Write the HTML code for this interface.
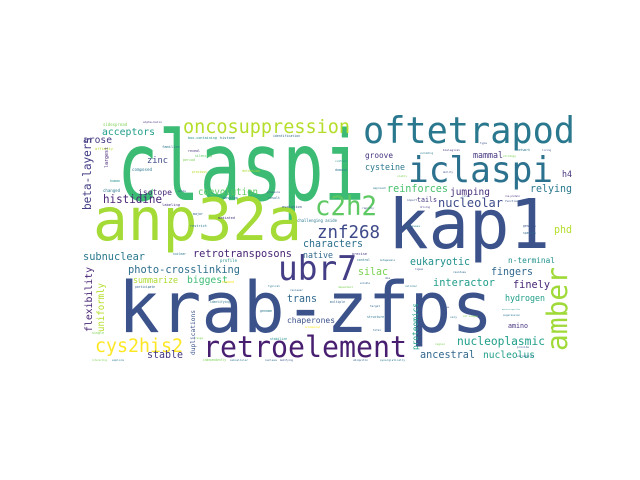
<!DOCTYPE html>
<html><head><meta charset="utf-8"><style>
html,body{margin:0;padding:0;background:#fff;}
svg{display:block;}
text{font-family:"DejaVu Sans Mono","Liberation Mono",monospace;}
</style></head><body>
<svg id="cloud" width="640" height="480" viewBox="0 0 640 480" xmlns="http://www.w3.org/2000/svg">
<rect width="640" height="480" fill="#fff"/>
<g id="words"></g>
</svg>
<script>
// [text, x, baselineY, length, color, vertical, optionalFontSize]
const words = [
["claspi",117,200,248,"#3cbb75",0,96],
["anp32a",93,240,209,"#a5db36",0],
["kap1",388,248,162,"#3b528b",0],
["krab-zfps",118,332,375,"#3b528b",0],
["oftetrapod",363,143,212,"#2a788e",0],
["iclaspi",408,182,145,"#2c728e",0],
["oncosuppression",183,133,167,"#b5de2b",0],
["ubr7",278,280,79,"#433e85",0],
["retroelement",203,357,204,"#481f70",0],
["cys2his2",95,352,88,"#fde725",0],
["c2h2",315,215,62,"#5ec962",0],
["znf268",317,238,63,"#3e4a89",0],
["acceptors",102,135,53,"#1f9e89",0],
["arose",83,143,29,"#443a83",0],
["zinc",147,163,21,"#3e4a89",0],
["isotope",138,195,34,"#482878",0],
["histidine",103,203,59,"#482475",0],
["coevolution",198,195,60,"#5ec962",0],
["groove",365,158,28,"#46337e",0],
["cysteine",365,170,40,"#2a788e",0],
["mammal",473,158,30,"#453781",0],
["reinforces",387,192,61,"#4ac16d",0],
["relying",530,192,42,"#2a788e",0],
["tails",417,202,20,"#453781",0],
["jumping",450,195,40,"#472d7b",0],
["nucleolar",438,207,65,"#3e4c8a",0],
["characters",303,247,60,"#2d708e",0],
["native",303,258,30,"#31688e",0],
["retrotransposons",193,257,99,"#482475",0],
["subnuclear",83,260,62,"#2a788e",0],
["photo-crosslinking",128,273,112,"#2e6f8e",0],
["summarize",133,283,45,"#addc30",0],
["biggest",187,283,41,"#3dbc74",0],
["silac",358,275,30,"#7ad151",0],
["eukaryotic",410,265,60,"#21918c",0],
["n-terminal",508,263,47,"#21918c",0],
["fingers",491,275,42,"#31688e",0],
["interactor",433,286,62,"#1f9e89",0],
["finely",513,288,37,"#482878",0],
["trans",287,302,30,"#31688e",0],
["chaperones",287,323,48,"#3b528b",0],
["hydrogen",505,301,40,"#1f9e89",0],
["amino",508,328,20,"#46337e",0],
["nucleoplasmic",457,345,88,"#1f9e89",0],
["ancestral",420,358,55,"#31688e",0],
["nucleolus",483,358,52,"#1f9e89",0],
["stable",147,358,36,"#443983",0],
["h4",562,177,10,"#46337e",0],
["phd",554,233,18,"#b5de2b",0],
["beta-layers",91,210,73,"#433e85",1],
["largest",108,168,21,"#482878",1],
["flexibility",92,332,65,"#482475",1],
["uniformly",104,332,49,"#b5de2b",1],
["duplications",195,355,45,"#3b528b",1],
["proteomics",418,350,47,"#1f9e89",1],
["amber",567,351,84,"#a0da39",1],
["sidespread",103,126,24,"#7ad151",0],
["alpha-helix",143,123,19,"#46337e",0],
["families",162,148,18,"#2a788e",0],
["affinity",95,150,18,"#b5de2b",0],
["box-containing",188,139,29,"#21918c",0],
["histone",220,139,15,"#2a788e",0],
["identification",273,137,27,"#31688e",0],
["reveal",188,152,12,"#46337e",0],
["silencing",195,157,17,"#5ec962",0],
["period",183,161,12,"#7ad151",0],
["composed",132,171,20,"#2a788e",0],
["previous",192,173,15,"#b5de2b",0],
["detection",242,172,18,"#addc30",0],
["human",110,182,10,"#21918c",0],
["changed",103,192,17,"#2a788e",0],
["acids",178,192,8,"#3b528b",0],
["pressure",267,193,13,"#3b528b",0],
["result",268,199,12,"#31688e",0],
["develop",223,199,15,"#2a788e",0],
["labeling",162,206,18,"#46337e",0],
["evolution",282,208,20,"#3b528b",0],
["major",193,215,10,"#31688e",0],
["mediated",218,219,17,"#46337e",0],
["restrict",190,227,17,"#2a788e",0],
["validating",420,154,13,"#2a788e",0],
["biological",443,151,17,"#46337e",0],
["network",517,151,13,"#2a788e",0],
["living",542,151,9,"#3b528b",0],
["strategy",503,157,13,"#7ad151",0],
["culture",335,162,12,"#21918c",0],
["domain",335,171,12,"#2a788e",0],
["ability",443,173,10,"#3b528b",0],
["viably",397,177,10,"#7ad151",0],
["type",480,144,7,"#3b528b",0],
["approach",373,189,13,"#2a788e",0],
["roles",462,197,8,"#3b528b",0],
["import",407,201,10,"#3b528b",0],
["rna-protein",505,197,15,"#46337e",0],
["functions",505,202,15,"#3b528b",0],
["driving",420,208,10,"#46337e",0],
["processes",405,227,15,"#2a788e",0],
["genomes",523,227,13,"#3b528b",0],
["species",523,234,13,"#31688e",0],
["rapidly",362,209,12,"#3b528b",0],
["challenging aside",297,222,40,"#2a788e",0],
["profile",220,262,17,"#21918c",0],
["nuclear",173,255,13,"#2a788e",0],
["participate",135,288,20,"#31688e",0],
["expand",222,283,12,"#fde725",0],
["typical",268,287,12,"#2a788e",0],
["reviewer",290,291,13,"#31688e",0],
["identifying",210,303,20,"#2a788e",0],
["genome",260,312,12,"#2a788e",0],
["single",92,334,12,"#7ad151",0],
["range",195,339,8,"#7ad151",0],
["stabilize",270,340,17,"#21918c",0],
["explore",112,361,12,"#2a788e",0],
["interacting",92,361,15,"#7ad151",0],
["independently",203,361,23,"#7ad151",0],
["subcellular",230,361,18,"#2a788e",0],
["nucleus",265,361,12,"#31688e",0],
["modifying",280,361,13,"#3b528b",0],
["precise",352,255,15,"#46337e",0],
["control",357,261,13,"#2a788e",0],
["mutagenesis",380,261,15,"#2a788e",0],
["ligase",415,270,8,"#3b528b",0],
["residues",453,273,13,"#31688e",0],
["dna",385,279,5,"#3b528b",0],
["soluble",360,284,10,"#31688e",0],
["cellular",405,287,12,"#2a788e",0],
["dependent",338,288,15,"#7ad151",0],
["multiple",330,303,15,"#31688e",0],
["target",370,307,10,"#31688e",0],
["structure",367,318,17,"#2a788e",0],
["slow",442,308,7,"#3b528b",0],
["vary",450,318,7,"#2a788e",0],
["all stages",463,317,15,"#7ad151",0],
["meiosis-specific",502,310,18,"#21918c",0],
["suppression",503,316,17,"#2a788e",0],
["total",373,331,8,"#31688e",0],
["region",435,345,10,"#7ad151",0],
["provide",517,348,12,"#3b528b",0],
["ubiquitin",353,361,15,"#31688e",0],
["synergistically",380,361,25,"#2a788e",0],
["accompanied",305,328,15,"#fde725",0],
["variability",517,357,17,"#31688e",0]
];

const g = document.getElementById('words');
const NS = 'http://www.w3.org/2000/svg';
words.forEach(function(w){
  const t = document.createElementNS(NS,'text');
  const n = w[0].length;
  const base = w[3]/(0.6*n);
  const fs = w[6] ? w[6] : base*1.02;
  t.setAttribute('font-size', fs.toFixed(2));
  t.setAttribute('fill', w[4]);
  t.setAttribute('textLength', w[3]);
  t.setAttribute('lengthAdjust', 'spacingAndGlyphs');
  if (w[5]) {
    t.setAttribute('x', 0);
    t.setAttribute('y', 0);
    t.setAttribute('transform', 'translate(' + w[1] + ',' + w[2] + ') rotate(-90)');
  } else {
    t.setAttribute('x', w[1]);
    t.setAttribute('y', w[2]);
  }
  t.textContent = w[0];
  
  
  g.appendChild(t);
});
</script>
</body></html>
